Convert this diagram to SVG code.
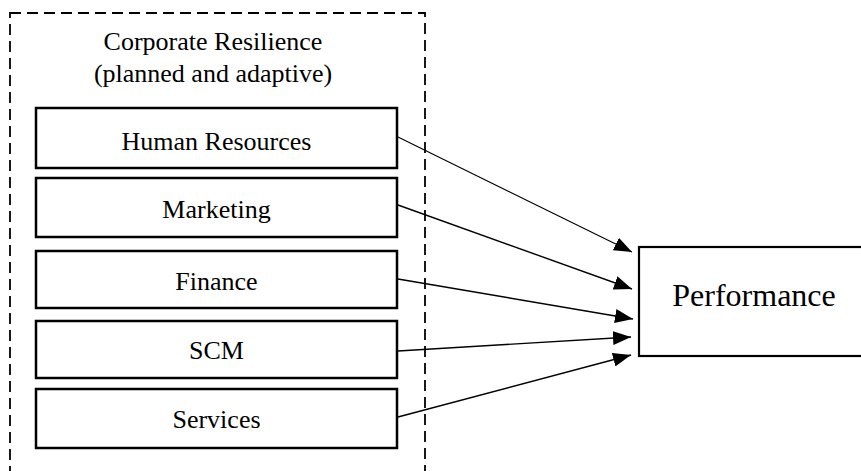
<svg xmlns="http://www.w3.org/2000/svg" width="861" height="471" viewBox="0 0 861 471">
  <style>
    .frame { fill: none; stroke: #000; stroke-width: 1.8; stroke-dasharray: 11 6; }
    .box { fill: #fff; stroke: #000; stroke-width: 2.5; }
    .pbox { fill: #fff; stroke: #000; stroke-width: 2.2; }
    .lbl { font-family: "Liberation Serif", "Times New Roman", serif; font-size: 26px; fill: #000; text-anchor: middle; }
    .big { font-size: 32px; }
    .link { stroke: #000; stroke-width: 1.4; fill: none; marker-end: url(#head); }
  </style>
  <defs>
    <marker id="head" viewBox="0 0 18 14" refX="18" refY="7" markerWidth="18" markerHeight="14" markerUnits="userSpaceOnUse" orient="auto">
      <path d="M0,0 L18,7 L0,14 z" fill="#000"/>
    </marker>
  </defs>

  <rect width="861" height="471" fill="#fff"/>

  <!-- dashed grouping frame -->
  <g id="resilience">
    <rect class="frame" x="10" y="13" width="415" height="480"/>
    <text class="lbl" x="213" y="50">Corporate Resilience</text>
    <text class="lbl" x="213" y="82">(planned and adaptive)</text>
  </g>

  <g id="hr">
    <rect class="box" x="36" y="108" width="361" height="60"/>
    <text class="lbl" x="216.5" y="150">Human Resources</text>
  </g>
  <g id="marketing">
    <rect class="box" x="36" y="178" width="361" height="59"/>
    <text class="lbl" x="216.5" y="218">Marketing</text>
  </g>
  <g id="finance">
    <rect class="box" x="36" y="251" width="361" height="57"/>
    <text class="lbl" x="216.5" y="290">Finance</text>
  </g>
  <g id="scm">
    <rect class="box" x="36" y="321" width="361" height="57"/>
    <text class="lbl" x="216.5" y="359">SCM</text>
  </g>
  <g id="services">
    <rect class="box" x="36" y="389" width="361" height="59"/>
    <text class="lbl" x="216.5" y="428">Services</text>
  </g>

  <g id="performance">
    <rect class="pbox" x="639" y="247" width="240" height="109"/>
    <text class="lbl big" x="754" y="306">Performance</text>
  </g>

  <!-- connectors -->
  <g id="connectors">
    <line class="link" x1="398" y1="137" x2="632" y2="252" style="stroke-width:1.1"/>
    <line class="link" x1="398" y1="205" x2="632" y2="289"/>
    <line class="link" x1="398" y1="279" x2="633" y2="319"/>
    <line class="link" x1="398" y1="351" x2="631" y2="337"/>
    <line class="link" x1="398" y1="417" x2="631" y2="355"/>
  </g>
</svg>
